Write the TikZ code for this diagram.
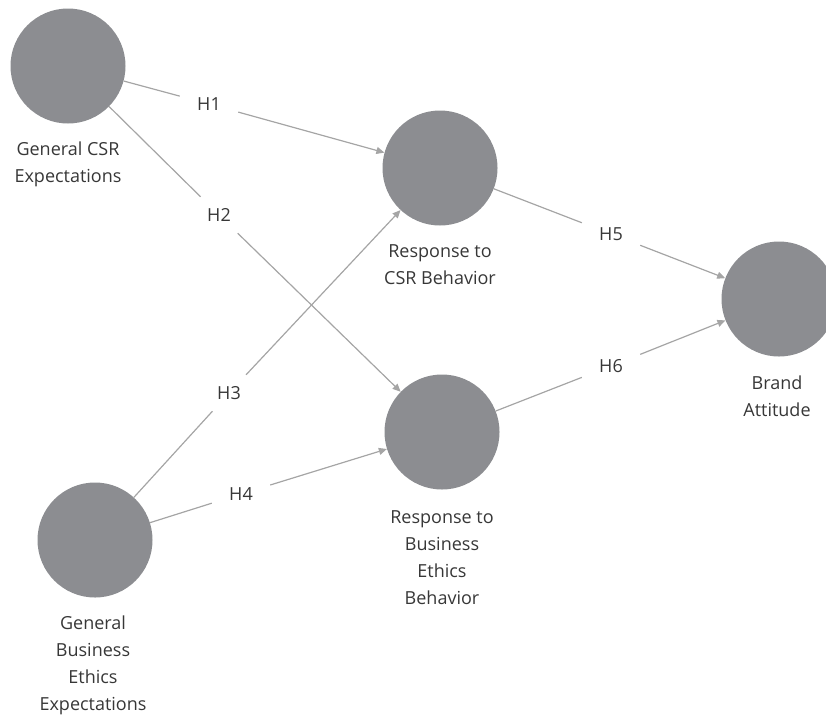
\documentclass[tikz,border=0pt]{standalone}
\usepackage{fontspec}
\setmainfont{Open Sans}
\usetikzlibrary{arrows.meta}
\definecolor{circfill}{RGB}{140,141,145}
\definecolor{edgecol}{RGB}{165,165,165}
\definecolor{txtcol}{RGB}{55,55,55}
\tikzset{
  construct/.style={circle, fill=circfill, draw=none, minimum size=115pt, inner sep=0pt},
  caption/.style={align=center, text=txtcol, font=\fontsize{18}{27}\selectfont},
  hyp/.style={rectangle, draw=none, minimum width=58pt, minimum height=36pt, inner sep=0pt, text=txtcol, font=\fontsize{18}{20}\selectfont},
  link/.style={draw=edgecol, line width=1.2pt},
  arrowlink/.style={link, -{Triangle[width=7pt,length=8pt]}},
}
\begin{document}
\begin{tikzpicture}[x=1pt,y=-1pt]
\useasboundingbox (0,0) rectangle (826,718);
\clip (0,0) rectangle (826,718);
\node[construct] (A) at (68,66) {};
\node[construct] (B) at (440,168) {};
\node[construct] (C) at (779,299) {};
\node[construct] (D) at (442,432) {};
\node[construct] (E) at (95,540) {};

\node[caption] (tA) at (68,164) {General CSR\\Expectations};
\node[caption] (tB) at (440,265) {Response to\\CSR Behavior};
\node[caption] (tC) at (777,396) {Brand\\Attitude};
\node[caption] (tD) at (442,558) {Response to\\Business\\Ethics\\Behavior};
\node[caption] (tE) at (93,665) {General\\Business\\Ethics\\Expectations};

\node[hyp] (h1) at (209,104) {H1};
\node[hyp] (h2) at (219,215) {H2};
\node[hyp] (h3) at (229,393) {H3};
\node[hyp] (h4) at (241,494) {H4};
\node[hyp] (h5) at (611,234) {H5};
\node[hyp] (h6) at (611,366) {H6};

\draw[link] (A) -- (h1); \draw[arrowlink] (h1) -- (B);
\draw[link] (A) -- (h2); \draw[arrowlink] (h2) -- (D);
\draw[link] (E) -- (h3); \draw[arrowlink] (h3) -- (B);
\draw[link] (E) -- (h4); \draw[arrowlink] (h4) -- (D);
\draw[link] (B) -- (h5); \draw[arrowlink] (h5) -- (C);
\draw[link] (D) -- (h6); \draw[arrowlink] (h6) -- (C);
\end{tikzpicture}
\end{document}
